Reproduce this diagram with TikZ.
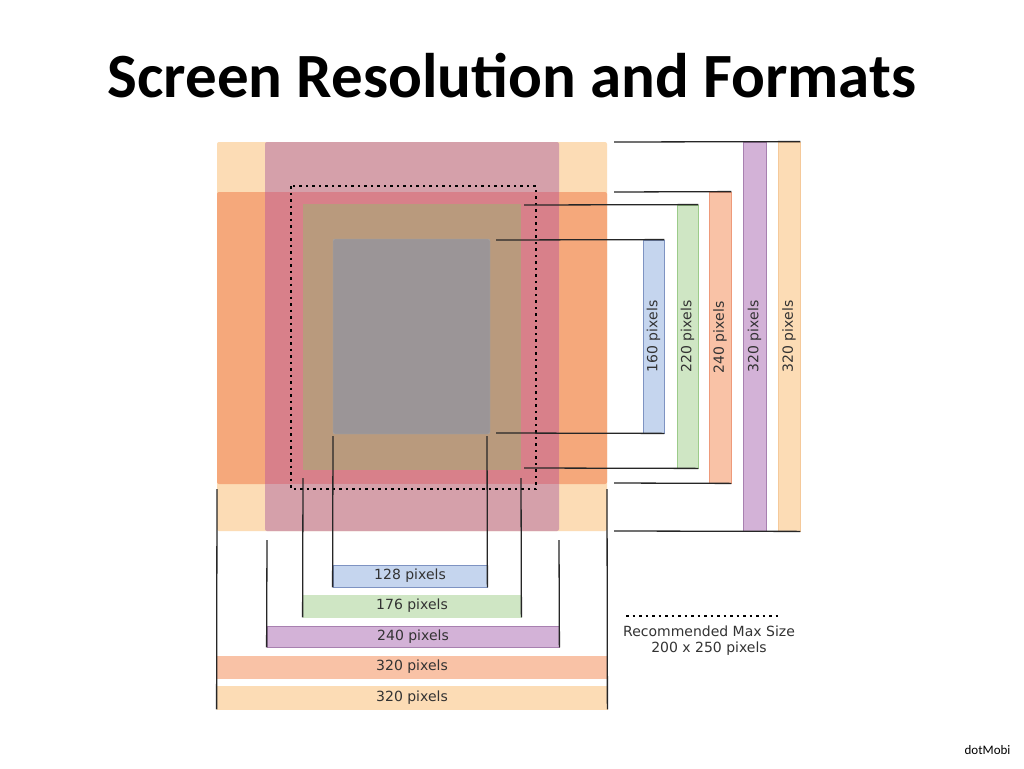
\documentclass[tikz,border=0pt]{standalone}
\usepackage{fontspec}
\setmainfont{Carlito}
\newfontfamily\lblfont{DejaVu Sans}
\definecolor{lorange}{HTML}{FCDCB5}
\definecolor{orng}{HTML}{F5A87B}
\definecolor{mauve}{HTML}{D5A0AA}
\definecolor{mauveo}{HTML}{D8808A}
\definecolor{brownish}{HTML}{B99A7D}
\definecolor{grayb}{HTML}{9B9597}
\definecolor{bluef}{HTML}{C5D5EE}\definecolor{blued}{HTML}{7E93C2}
\definecolor{greenf}{HTML}{CFE6C4}\definecolor{greend}{HTML}{9CCB8A}
\definecolor{salf}{HTML}{F9C2A6}\definecolor{sald}{HTML}{EE9A7A}
\definecolor{purf}{HTML}{D3B2D7}\definecolor{purd}{HTML}{A880B0}
\definecolor{lod}{HTML}{F5C99A}
\tikzset{
  lbl/.style={font=\lblfont\fontsize{14}{14}\selectfont, text=black!80},
  bar/.style={draw, line width=0.8pt, inner sep=0pt, lbl},
  lead/.style={draw=black!85, line width=1.3pt},
}
\begin{document}
\begin{tikzpicture}[x=1pt,y=-1pt]
\useasboundingbox (0,0) rectangle (1024,768);
\fill[white] (0,0) rectangle (1024,768);
\node[font=\bfseries\fontsize{63}{63}\selectfont] (title) at (512,76) {Screen Resolution and Formats};
\node[font=\fontsize{13}{13}\selectfont, anchor=east] (brand) at (1014,750) {dotMobi};
% screens
\fill[lorange, rounded corners=2pt] (217,142) rectangle (607,531);
\fill[orng, rounded corners=2pt] (217,192) rectangle (607,484);
\fill[mauve, rounded corners=2pt] (265,142) rectangle (559,531);
\fill[mauveo] (265,192) rectangle (559,484);
\fill[brownish] (303,204) rectangle (521,470);
\filldraw[fill=grayb, draw=black!35, rounded corners=2pt] (333,239) rectangle (490,434);
\draw[line width=2pt, dash pattern=on 2.5pt off 4pt] (291,186) rectangle (536,489);
% right bars
\node[bar, fill=bluef, draw=blued, minimum width=21pt, minimum height=193pt] (b160) at (653.5,336.5) {};
\node[rotate=90, lbl] at (b160) {160 pixels};
\node[bar, fill=greenf, draw=greend, minimum width=21pt, minimum height=263pt] (b220) at (687.5,336.5) {};
\node[rotate=90, lbl] at (b220) {220 pixels};
\node[bar, fill=salf, draw=sald, minimum width=22pt, minimum height=291pt] (b240) at (720,337.5) {};
\node[rotate=90, lbl] at (b240) {240 pixels};
\node[bar, fill=purf, draw=purd, minimum width=23pt, minimum height=389pt] (b320a) at (754.5,336.5) {};
\node[rotate=90, lbl] at (b320a) {320 pixels};
\node[bar, fill=lorange, draw=lod, minimum width=22pt, minimum height=389pt] (b320b) at (789,336.5) {};
\node[rotate=90, lbl] at (b320b) {320 pixels};
\draw[lead] (496,240) -- (b160.north east);
\draw[lead] (496,433) -- (b160.south east);
\draw[lead] (524,205) -- (b220.north east);
\draw[lead] (524,468) -- (b220.south east);
\draw[lead] (614,192) -- (b240.north east);
\draw[lead] (614,483) -- (b240.south east);
\draw[lead] (614,142) -- (b320b.north east);
\draw[lead] (614,531) -- (b320b.south east);
% bottom bars
\node[bar, fill=bluef, draw=blued, minimum width=154pt, minimum height=22pt] (h128) at (410,576) {128 pixels};
\node[bar, fill=greenf, draw=greenf, minimum width=218pt, minimum height=22pt] (h176) at (412,606) {176 pixels};
\node[bar, fill=purf, draw=purd, minimum width=292pt, minimum height=21pt] (h240) at (413,636.5) {240 pixels};
\node[bar, fill=salf, draw=salf, minimum width=390pt, minimum height=22pt] (h320a) at (412,667) {320 pixels};
\node[bar, fill=lorange, draw=lorange, minimum width=390pt, minimum height=23pt] (h320b) at (412,697.5) {320 pixels};
\draw[lead] (333,436) -- (h128.south west);
\draw[lead] (487,436) -- (h128.south east);
\draw[lead] (303,478) -- (h176.south west);
\draw[lead] (521,478) -- (h176.south east);
\draw[lead] (267,540) -- (h240.south west);
\draw[lead] (559,540) -- (h240.south east);
\draw[lead] (217,489) -- (h320b.south west);
\draw[lead] (607,489) -- (h320b.south east);
% legend
\coordinate (l1) at (626,616);
\coordinate (l2) at (778,616);
\draw[line width=2pt, dash pattern=on 2.5pt off 4pt] (l1) -- (l2);
\node[lbl, align=center] (legend) at (709,641) {Recommended Max Size\\[2pt]200 x 250 pixels};
\end{tikzpicture}
\end{document}
